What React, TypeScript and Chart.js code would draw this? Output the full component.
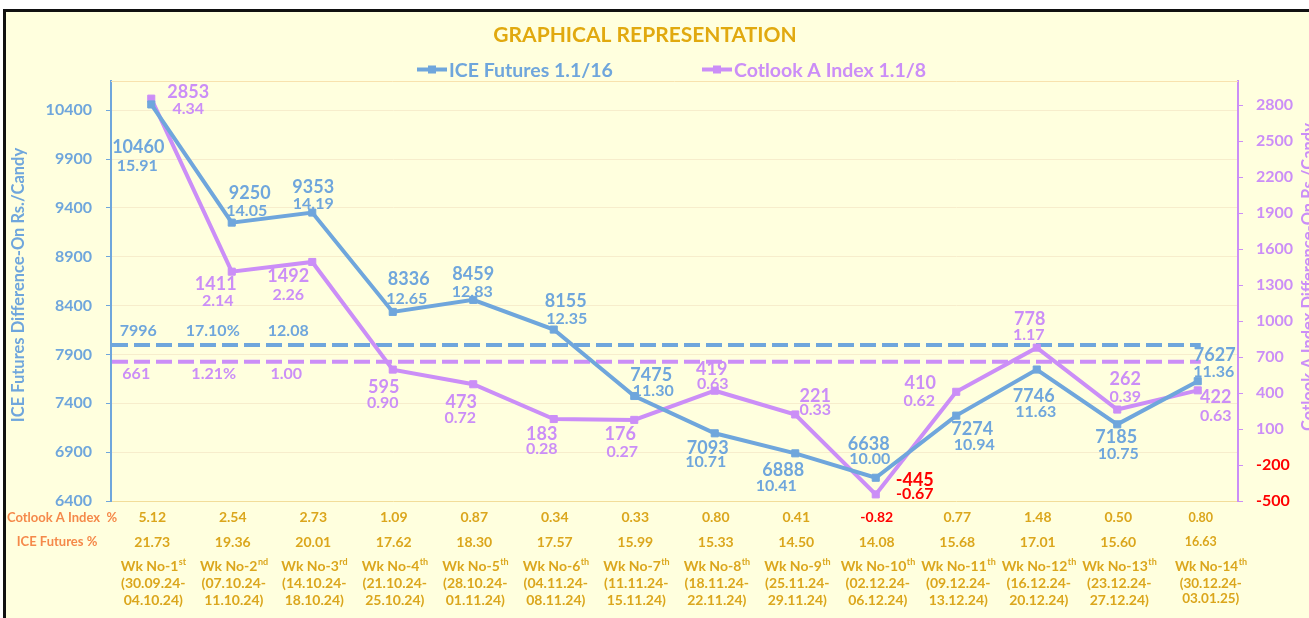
import React, { useEffect, useRef } from "react";
import { Chart, registerables } from "chart.js";
Chart.register(...registerables);

// ---------------- DATA ----------------
const WEEK_NAMES = ["Wk No-1", "Wk No-2", "Wk No-3", "Wk No-4", "Wk No-5", "Wk No-6", "Wk No-7", "Wk No-8", "Wk No-9", "Wk No-10", "Wk No-11", "Wk No-12", "Wk No-13", "Wk No-14"];
const WEEK_SUP = ["st", "nd", "rd", "th", "th", "th", "th", "th", "th", "th", "th", "th", "th", "th"];
const WEEK_FROM = ["(30.09.24-", "(07.10.24-", "(14.10.24-", "(21.10.24-", "(28.10.24-", "(04.11.24-", "(11.11.24-", "(18.11.24-", "(25.11.24-", "(02.12.24-", "(09.12.24-", "(16.12.24-", "(23.12.24-", "(30.12.24-"];
const WEEK_TO = ["04.10.24)", "11.10.24)", "18.10.24)", "25.10.24)", "01.11.24)", "08.11.24)", "15.11.24)", "22.11.24)", "29.11.24)", "06.12.24)", "13.12.24)", "20.12.24)", "27.12.24)", "03.01.25)"];

const ICE_DIFF = [10460, 9250, 9353, 8336, 8459, 8155, 7475, 7093, 6888, 6638, 7274, 7746, 7185, 7627];
const ICE_DIFF_PCT = [15.91, 14.05, 14.19, 12.65, 12.83, 12.35, 11.3, 10.71, 10.41, 10.0, 10.94, 11.63, 10.75, 11.36];
const COTLOOK_DIFF = [2853, 1411, 1492, 595, 473, 183, 176, 419, 221, -445, 410, 778, 262, 422];
const COTLOOK_DIFF_PCT = [4.34, 2.14, 2.26, 0.9, 0.72, 0.28, 0.27, 0.63, 0.33, -0.67, 0.62, 1.17, 0.39, 0.63];

const COTLOOK_PCT_ROW = [5.12, 2.54, 2.73, 1.09, 0.87, 0.34, 0.33, 0.8, 0.41, -0.82, 0.77, 1.48, 0.5, 0.8];
const ICE_PCT_ROW = [21.73, 19.36, 20.01, 17.62, 18.3, 17.57, 15.99, 15.33, 14.5, 14.08, 15.68, 17.01, 15.6, 16.63];

const ICE_AVG = 7996;
const ICE_AVG_LABELS = ["7996", "17.10%", "12.08"];
const COTLOOK_AVG = 661;
const COTLOOK_AVG_LABELS = ["661", "1.21%", "1.00"];

const LEFT_TICKS = [6400, 6900, 7400, 7900, 8400, 8900, 9400, 9900, 10400];
const RIGHT_TICKS = [-500, -200, 100, 400, 700, 1000, 1300, 1600, 1900, 2200, 2500, 2800];

const TITLE = "GRAPHICAL REPRESENTATION";
const ICE_NAME = "ICE Futures 1.1/16";
const COTLOOK_NAME = "Cotlook A Index 1.1/8";
const LEFT_TITLE = "ICE Futures Difference-On Rs./Candy";
const RIGHT_TITLE = "Cotlook A Index Difference-On Rs./Candy";
const ROW1_NAME = "Cotlook A Index  %";
const ROW2_NAME = "ICE Futures %";

// ---------------- STYLE ----------------
const FONT = "Lato, 'Open Sans', sans-serif";
const BLUE = "#6FA6DC";
const PURPLE = "#CB8EF7";
const GOLD = "#DBA61C";
const TITLE_GOLD = "#E1A90F";
const ORANGE = "#F5894A";
const RED = "#FF0000";
const BG = "#FFFFDE";

// label offsets [dxValue, dyValue, dxPct, dyPct] relative to each point
const ICE_LABEL_POS = [
  [-13, 42, -14, 61], [18, -30, 15, -12], [1, -26, 1, -9], [16, -33, 14, -14],
  [0, -26, -1, -9], [12, -29, 13, -11], [17, -21, 19, -6], [-7, 14, -9, 28],
  [-12, 16, -19, 32], [-7, -34, -6, -20], [16, 13, 18, 29], [-3, 26, -1, 42],
  [-1, 12, 1, 29], [17, -27, 16, -10],
];
const COTLOOK_LABEL_POS = [
  [37, -7, 37, 10], [-16, 12, -14, 29], [-24, 14, -24, 32], [-9, 17, -10, 33],
  [-12, 17, -13, 33], [-12, 14, -12, 29], [-14, 14, -12, 31], [-3, -22, -2, -7],
  [20, -19, 20, -5], [39, -15, 39, -1], [-36, -9, -37, 8], [-7, -29, -8, -13],
  [8, -31, 8, -13], [18, 6, 18, 25],
];
const ICE_AVG_POS = [[-13, -15], [-19, -15], [-24, -15]];
const COTLOOK_AVG_POS = [[-15, 12], [-18, 12], [-26, 12]];

function txt(ctx: CanvasRenderingContext2D, s: string, x: number, cy: number, size: number, color: string, align: CanvasTextAlign = "center") {
  ctx.font = `bold ${size}px ${FONT}`;
  ctx.fillStyle = color;
  ctx.textAlign = align;
  ctx.textBaseline = "alphabetic";
  ctx.fillText(s, x, cy + size * 0.36);
}

function drawWeek(ctx: CanvasRenderingContext2D, main: string, sup: string, cx: number, cy: number, size: number) {
  const supSize = Math.round(size * 0.66);
  ctx.font = `bold ${size}px ${FONT}`;
  const w1 = ctx.measureText(main).width;
  ctx.font = `bold ${supSize}px ${FONT}`;
  const w2 = ctx.measureText(sup).width;
  const left = cx - (w1 + w2) / 2;
  const base = cy + size * 0.36;
  ctx.fillStyle = GOLD;
  ctx.textAlign = "left";
  ctx.textBaseline = "alphabetic";
  ctx.font = `bold ${size}px ${FONT}`;
  ctx.fillText(main, left, base);
  ctx.font = `bold ${supSize}px ${FONT}`;
  ctx.fillText(sup, left + w1 + 0.5, base - size * 0.4);
}

const decorPlugin = {
  id: "decor",
  beforeDatasetsDraw(chart: any) {
    const { ctx, chartArea, scales } = chart;
    ctx.save();
    // plot area top edge
    ctx.strokeStyle = "#F8E2AE";
    ctx.lineWidth = 1;
    ctx.beginPath();
    ctx.moveTo(chartArea.left, chartArea.top + 0.5);
    ctx.lineTo(chartArea.right, chartArea.top + 0.5);
    ctx.stroke();
    // average dashed lines
    const xEnd = scales.x.getPixelForValue(WEEK_NAMES.length - 1);
    const dash = (y: number, color: string) => {
      ctx.strokeStyle = color;
      ctx.lineWidth = 4;
      ctx.setLineDash([16, 6]);
      ctx.beginPath();
      ctx.moveTo(chartArea.left + 1, y);
      ctx.lineTo(xEnd + 3, y);
      ctx.stroke();
    };
    dash(scales.y.getPixelForValue(ICE_AVG), BLUE);
    dash(scales.y1.getPixelForValue(COTLOOK_AVG), PURPLE);
    ctx.setLineDash([]);
    ctx.restore();
  },
  afterDatasetsDraw(chart: any) {
    const { ctx, scales } = chart;
    ctx.save();
    const labels = (dsIndex: number, vals: number[], pcts: number[], pos: number[][], color: string) => {
      const meta = chart.getDatasetMeta(dsIndex);
      meta.data.forEach((pt: any, i: number) => {
        const [dx, dy, dxp, dyp] = pos[i];
        const c = vals[i] < 0 ? RED : color;
        txt(ctx, String(vals[i]), pt.x + dx, pt.y + dy, 18, c);
        txt(ctx, pcts[i].toFixed(2), pt.x + dxp, pt.y + dyp, 16, c);
      });
    };
    labels(0, ICE_DIFF, ICE_DIFF_PCT, ICE_LABEL_POS, BLUE);
    labels(1, COTLOOK_DIFF, COTLOOK_DIFF_PCT, COTLOOK_LABEL_POS, PURPLE);
    // average labels
    const yI = scales.y.getPixelForValue(ICE_AVG);
    const yC = scales.y1.getPixelForValue(COTLOOK_AVG);
    ICE_AVG_LABELS.forEach((s, i) => txt(ctx, s, scales.x.getPixelForValue(i) + ICE_AVG_POS[i][0], yI + ICE_AVG_POS[i][1], 16, BLUE));
    COTLOOK_AVG_LABELS.forEach((s, i) => txt(ctx, s, scales.x.getPixelForValue(i) + COTLOOK_AVG_POS[i][0], yC + COTLOOK_AVG_POS[i][1], 16, PURPLE));
    ctx.restore();
  },
  afterDraw(chart: any) {
    const { ctx, chartArea, scales } = chart;
    ctx.save();
    // title
    txt(ctx, TITLE, 645, 34.5, 21, TITLE_GOLD);
    // legend
    const legendItem = (x: number, name: string, color: string) => {
      ctx.strokeStyle = color;
      ctx.lineWidth = 4;
      ctx.beginPath();
      ctx.moveTo(x, 69.5);
      ctx.lineTo(x + 30, 69.5);
      ctx.stroke();
      ctx.fillStyle = color;
      ctx.fillRect(x + 11, 65.5, 8, 8);
      txt(ctx, name, x + 32, 69.5, 19.5, color, "left");
    };
    legendItem(417, ICE_NAME, BLUE);
    legendItem(702, COTLOOK_NAME, PURPLE);
    // axis titles
    const vtitle = (s: string, x: number, y: number, color: string) => {
      ctx.save();
      ctx.translate(x, y);
      ctx.rotate(-Math.PI / 2);
      txt(ctx, s, 0, 0, 16.5, color);
      ctx.restore();
    };
    vtitle(LEFT_TITLE, 18, (chartArea.top + chartArea.bottom) / 2 - 6, BLUE);
    vtitle(RIGHT_TITLE, 1308, (chartArea.top + chartArea.bottom) / 2 - 14, PURPLE);
    // table under the axis
    txt(ctx, ROW1_NAME, 62, 517, 13, ORANGE);
    txt(ctx, ROW2_NAME, 57, 541.5, 13, ORANGE);
    const last = WEEK_NAMES.length - 1;
    WEEK_NAMES.forEach((w, i) => {
      const cx = scales.x.getPixelForValue(i);
      const isLast = i === last;
      const vs = isLast ? 12.5 : 14;
      const vx = cx + (isLast ? 3 : 1);
      txt(ctx, COTLOOK_PCT_ROW[i].toFixed(2), vx, 517, vs, COTLOOK_PCT_ROW[i] < 0 ? RED : GOLD);
      txt(ctx, ICE_PCT_ROW[i].toFixed(2), vx, 541.5, vs, ICE_PCT_ROW[i] < 0 ? RED : GOLD);
      const wx = cx + (isLast ? 13 : 2);
      const ws = isLast ? 13.5 : 14;
      drawWeek(ctx, w, WEEK_SUP[i], wx, 566, ws);
      txt(ctx, WEEK_FROM[i], wx, 583, ws, GOLD);
      txt(ctx, WEEK_TO[i], wx, isLast ? 598.5 : 600, ws, GOLD);
    });
    ctx.restore();
  },
};

export default function App() {
  const ref = useRef<HTMLCanvasElement>(null);
  useEffect(() => {
    const canvas = ref.current;
    if (!canvas) return;
    Chart.defaults.font.family = FONT;
    const chart = new Chart(canvas, {
      type: "line",
      data: {
        labels: WEEK_NAMES,
        datasets: [
          {
            label: ICE_NAME,
            data: ICE_DIFF,
            yAxisID: "y",
            borderColor: BLUE,
            backgroundColor: BLUE,
            borderWidth: 4,
            pointStyle: "rect",
            pointRadius: 5,
            pointBorderWidth: 1,
            pointBackgroundColor: BLUE,
            pointBorderColor: BLUE,
            tension: 0,
            fill: false,
          },
          {
            label: COTLOOK_NAME,
            data: COTLOOK_DIFF,
            yAxisID: "y1",
            borderColor: PURPLE,
            backgroundColor: PURPLE,
            borderWidth: 4,
            pointStyle: "rect",
            pointRadius: 5,
            pointBorderWidth: 1,
            pointBackgroundColor: PURPLE,
            pointBorderColor: PURPLE,
            tension: 0,
            fill: false,
          },
        ],
      },
      options: {
        responsive: false,
        animation: false,
        devicePixelRatio: 1,
        layout: { padding: { top: 81, bottom: 117, left: 0, right: 0 } },
        plugins: {
          legend: { display: false },
          title: { display: false },
          tooltip: { enabled: false },
        },
        scales: {
          x: { type: "category", offset: true, display: false },
          y: {
            position: "left",
            min: 6400,
            max: 10700,
            afterBuildTicks: (s: any) => {
              s.ticks = LEFT_TICKS.map((v) => ({ value: v }));
            },
            afterFit: (s: any) => {
              s.width = 111;
            },
            ticks: {
              color: BLUE,
              padding: 14,
              font: { family: FONT, size: 16, weight: "bold" },
              callback: (v: any) => String(v),
            },
            grid: {
              color: (c: any) => (c.tick && c.tick.value === 6400 ? "#F2DD9A" : "#F7EDCC"),
              tickColor: BLUE,
              tickLength: 5,
              lineWidth: 1,
            },
            border: { color: BLUE, width: 2 },
          },
          y1: {
            position: "right",
            min: -500,
            max: 3000,
            afterBuildTicks: (s: any) => {
              s.ticks = RIGHT_TICKS.map((v) => ({ value: v }));
            },
            afterFit: (s: any) => {
              s.width = 71;
            },
            ticks: {
              color: (c: any) => (c.tick && c.tick.value < 0 ? RED : PURPLE),
              padding: 13,
              font: { family: FONT, size: 16, weight: "bold" },
              callback: (v: any) => String(v),
            },
            grid: {
              drawOnChartArea: false,
              tickColor: PURPLE,
              tickLength: 5,
            },
            border: { color: PURPLE, width: 2 },
          },
        },
      } as any,
      plugins: [decorPlugin],
    });
    return () => chart.destroy();
  }, []);

  return (
    <div style={{ position: "absolute", left: 0, top: 0, width: 1309, height: 618, overflow: "hidden", background: "#fff" }}>
      <div style={{ position: "absolute", left: 3, top: 9, width: 1400, height: 700, border: "3px solid #111", background: BG }} />
      <canvas ref={ref} width={1309} height={618} style={{ position: "absolute", left: 0, top: 0, width: 1309, height: 618 }} />
    </div>
  );
}
